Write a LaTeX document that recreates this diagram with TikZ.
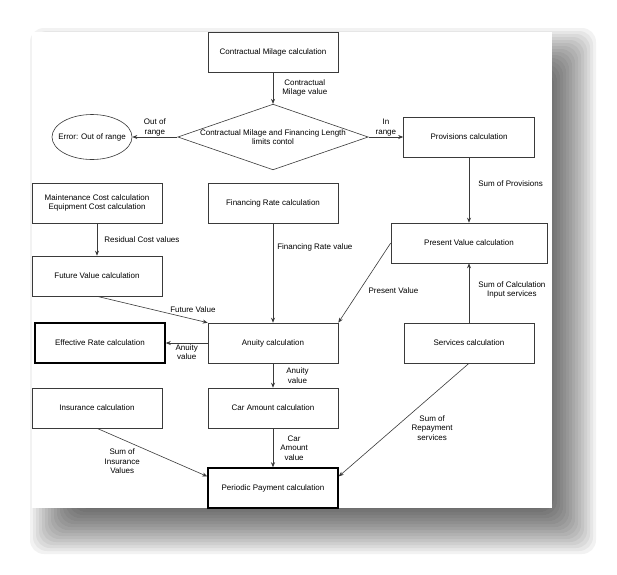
\documentclass[tikz,border=0pt]{standalone}
\usepackage{fontspec}
\setmainfont{Liberation Sans}
\usetikzlibrary{positioning,arrows.meta,shapes.geometric}
\definecolor{linegray}{HTML}{3A3A3A}

\begin{document}
\begin{tikzpicture}[x=1pt,y=-1pt,node distance=80pt,on grid,
    >={Stealth[length=5pt,width=4pt]},
    every node/.style={font=\fontsize{8}{9.5}\selectfont},
    every edge/.append style={draw=linegray,line width=0.6pt},
    box/.style={rectangle,draw=linegray,line width=0.6pt,minimum width=130pt,minimum height=40pt,align=center,inner sep=2pt},
    boldbox/.style={box,draw=black,line width=1.5pt},
    test/.style={diamond,draw=linegray,line width=0.6pt,aspect=2.9,inner sep=0pt,align=center},
    error/.style={ellipse,draw=linegray,line width=0.6pt,minimum width=80pt,minimum height=45pt},
    txt/.style={align=center,inner sep=1pt}]
            \useasboundingbox (0,0) rectangle (617,574);
            % page with its shadow
            \foreach \r in {-24,-21,...,24}
                \fill[black,opacity=0.05,rounded corners=14pt] (54-\r,52-\r) rectangle (572+\r,530+\r);
            \fill[white] (32,32) rectangle (552,508);

            \node[box] (mil) at (273,52) {Contractual Milage calculation};
            \node[test] (diam) [below=85pt of mil] {Contractual Milage and Financing Length\\limits contol};
            \node[error,label=center:{Error: Out of range}] (err) [left=181pt of diam] {};
            \node[box,minimum width=131pt] (prov) [right=196pt of diam] {Provisions calculation};
            \node[box,minimum width=156pt] (pv) [below=106pt of prov] {Present Value calculation};
            \node[box] (serv) [below=100pt of pv] {Services calculation};
            \node[box] (fin) [below=66pt of diam] {Financing Rate calculation};
            \node[box] (anu) [below=140pt of fin] {Anuity calculation};
            \node[box] (car) [below=65pt of anu] {Car Amount calculation};
            \node[boldbox] (per) [below=80pt of car] {Periodic Payment calculation};
            \node[box] (maint) [left=176pt of fin] {Maintenance Cost calculation\\Equipment Cost calculation};
            \node[box] (fv) [below=73pt of maint] {Future Value calculation};
            \node[boldbox] (eff) [left=173pt of anu] {Effective Rate calculation};
            \node[box] (ins) [left=176pt of car] {Insurance calculation};

            \path[->]
            (mil) edge node[txt,right=8pt] {Contractual\\Milage value} (diam)
            (diam) edge node[txt,above] {Out of\\range} (err)
            (diam) edge node[txt,above] {In\\range} (prov)
            (prov) edge node[txt,right=8pt,pos=0.4] {Sum of Provisions} (pv)
            (serv) edge node[txt,right=8pt,pos=0.55] {Sum of Calculation\\Input services} (pv)
            (pv.west) edge node[txt,right=8pt,pos=0.6] {Present Value} (anu.north east)
            (maint) edge node[txt,right=6pt] {Residual Cost values} (fv)
            (fin) edge node[txt,right=3pt,pos=0.24] {Financing Rate value} (anu)
            (fv.south) edge node[txt,above right,pos=0.65] {Future Value} (anu.north west)
            (anu) edge node[txt,below] {Anuity\\value} (eff)
            (anu) edge node[txt,right=12pt] {Anuity\\value} (car)
            (car) edge node[txt,right=6pt] {Car\\Amount\\value} (per)
            (ins.south) edge node[txt,below left,pos=0.4] {Sum of\\Insurance\\Values} (per.170)
            (serv.south) edge node[txt,below right,pos=0.45] {Sum of\\Repayment\\services} (per.10);
        \end{tikzpicture}
\end{document}
